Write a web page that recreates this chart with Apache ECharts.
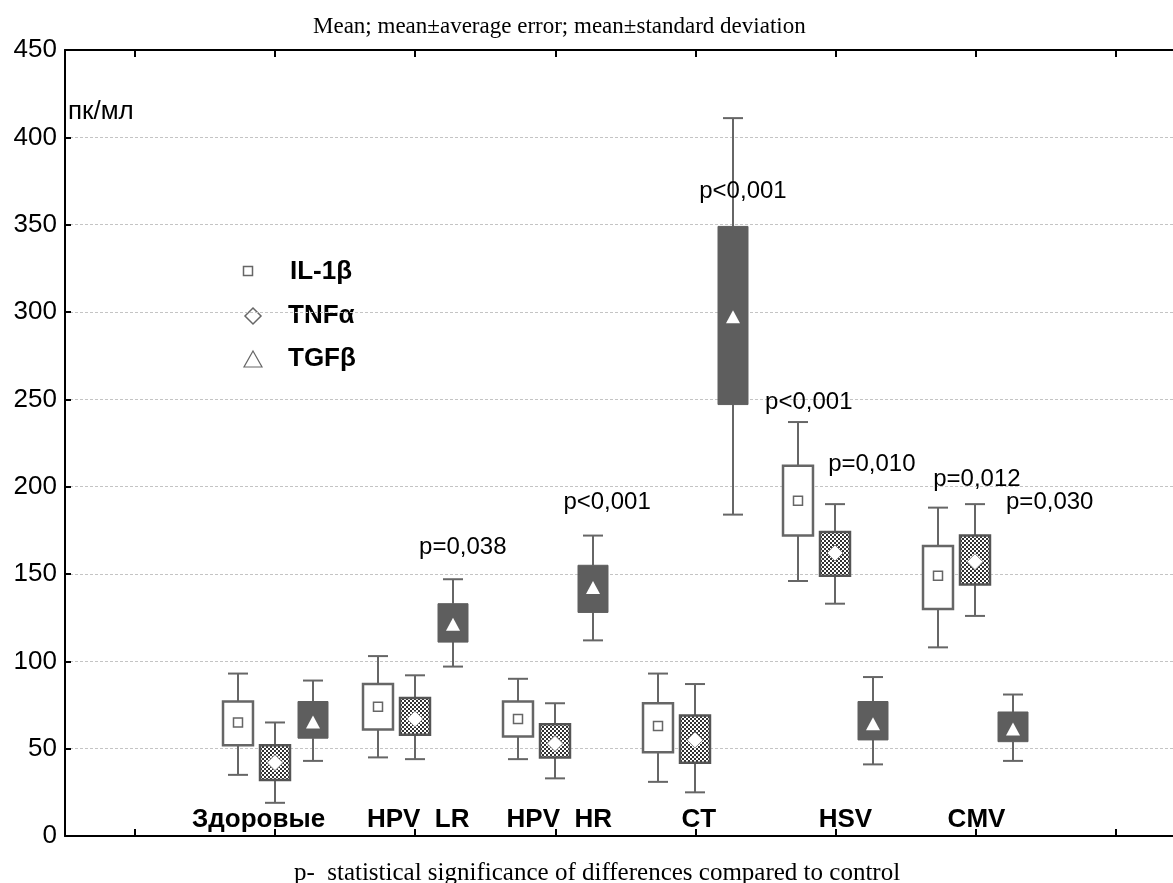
<!DOCTYPE html>
<html><head><meta charset="utf-8">
<script src="https://cdn.jsdelivr.net/npm/echarts@6/dist/echarts.min.js"></script>
<style>html,body{margin:0;padding:0;background:#fff}#c{width:1173px;height:883px}</style>
</head><body><div id="c"></div>
<script>
// ---- data ----
const groups = ['Здоровые', 'HPV  LR', 'HPV  HR', 'CT', 'HSV', 'CMV'];
const groupPos = [2, 3, 4, 5, 6, 7];
// each row: [mean−SD, mean−SE, mean, mean+SE, mean+SD]
const il1b = [[35,52,65,77,93],[45,61,74,87,103],[44,57,67,77,90],[31,48,63,76,93],[146,172,192,212,237],[108,130,149,166,188]];
const tnfa = [[19,32,42,52,65],[44,58,67,79,92],[33,45,53,64,76],[25,42,55,69,87],[133,149,162,174,190],[126,144,157,172,190]];
const tgfb = [[43,56,65,77,89],[97,111,121,133,147],[112,128,142,155,172],[184,247,297,349,411],[41,55,64,77,91],[43,54,61,71,81]];
const pTexts = ['p=0,038', 'p<0,001', 'p<0,001', 'p<0,001', 'p=0,010', 'p=0,012', 'p=0,030'];
const yTicks = [0, 50, 100, 150, 200, 250, 300, 350, 400, 450];
const seriesNames = ['IL-1β', 'TNFα', 'TGFβ'];

// ---- layout (not data) ----
const pAnchors = [[3.34,165],[4.37,191],[5.34,369],[5.81,248],[6.26,213],[7.01,204],[7.53,191]];
const labelShiftPx = [-16.5, 3, 4, 3.5, 10, 1];
const PX = 140; // px per x unit (approx)
const seriesOffset = 37.5 / PX;

const pc = document.createElement('canvas'); pc.width = 4; pc.height = 4;
const g = pc.getContext('2d');
g.fillStyle = '#fff'; g.fillRect(0,0,4,4);
g.fillStyle = '#333'; g.fillRect(0,0,2,2); g.fillRect(2,2,2,2);
const checker = {image: pc, repeat: 'repeat'};

const FONT = 'Liberation Sans, Arial, sans-serif';
const SERIF = 'Liberation Serif, Times New Roman, serif';
const GREY = '#666';

function makeRender(kind) {
  return function (params, api) {
    const x = api.value(0);
    const lo = api.coord([x, api.value(1)]);
    const bl = api.coord([x, api.value(2)]);
    const m = api.coord([x, api.value(3)]);
    const bh = api.coord([x, api.value(4)]);
    const hi = api.coord([x, api.value(5)]);
    const bw = api.size([0.214, 0])[0];
    const cw = api.size([0.143, 0])[0];
    const cx = Math.round(m[0]);
    const ls = {stroke: GREY, lineWidth: 2};
    const ch = [
      {type: 'line', shape: {x1: cx, y1: hi[1], x2: cx, y2: bh[1]}, style: ls},
      {type: 'line', shape: {x1: cx, y1: bl[1], x2: cx, y2: lo[1]}, style: ls},
      {type: 'line', shape: {x1: cx - cw/2, y1: hi[1], x2: cx + cw/2, y2: hi[1]}, style: ls},
      {type: 'line', shape: {x1: cx - cw/2, y1: lo[1], x2: cx + cw/2, y2: lo[1]}, style: ls}
    ];
    let boxStyle;
    if (kind === 0) boxStyle = {fill: '#fff', stroke: GREY, lineWidth: 2.5};
    else if (kind === 1) boxStyle = {fill: checker, stroke: '#555', lineWidth: 2.5};
    else boxStyle = {fill: '#5e5e5e', stroke: '#5e5e5e', lineWidth: 1};
    ch.push({type: 'rect', shape: {x: cx - bw/2, y: bh[1], width: bw, height: bl[1] - bh[1]}, style: boxStyle});
    const cy = m[1];
    if (kind === 0) {
      ch.push({type: 'rect', shape: {x: cx - 4.5, y: cy - 4.5, width: 9, height: 9}, style: {fill: '#fff', stroke: GREY, lineWidth: 1.5}});
    } else if (kind === 1) {
      ch.push({type: 'polygon', shape: {points: [[cx, cy-8],[cx+8, cy],[cx, cy+8],[cx-8, cy]]}, style: {fill: '#fff', stroke: '#888', lineWidth: 1}});
    } else {
      ch.push({type: 'polygon', shape: {points: [[cx, cy-7],[cx+7, cy+6],[cx-7, cy+6]]}, style: {fill: '#fff'}});
    }
    return {type: 'group', children: ch};
  };
}

const allSets = [il1b, tnfa, tgfb];
const series = allSets.map((set, k) => ({
  name: seriesNames[k],
  type: 'custom',
  renderItem: makeRender(k),
  encode: {x: 0, y: [1, 2, 3, 4, 5]},
  data: set.map((r, i) => [groupPos[i] + (k - 1) * seriesOffset].concat(r)),
  z: 3
}));
series.push({
  type: 'scatter',
  symbolSize: 0,
  silent: true,
  itemStyle: {opacity: 1},
  data: pAnchors.map((a, i) => ({value: a, name: pTexts[i]})),
  label: {show: true, position: 'inside', formatter: p => p.name, fontFamily: FONT, fontSize: 24, color: '#000', opacity: 1},
  z: 4
});

const chart = echarts.init(document.getElementById('c'));
chart.setOption({
  animation: false,
  title: {
    text: 'Mean; mean±average error; mean±standard deviation',
    left: 308, top: 10,
    textStyle: {fontFamily: SERIF, fontSize: 23, fontWeight: 'normal', color: '#000'}
  },
  grid: {left: 65, top: 50, right: 0, bottom: 47, containLabel: false, outerBoundsMode: 'none'},
  xAxis: [{
    type: 'value', min: 0.5, max: 8.41,
    position: 'bottom',
    axisLine: {lineStyle: {color: '#000', width: 2}},
    axisTick: {inside: true, length: 7, lineStyle: {color: '#000', width: 2}, customValues: [1,2,3,4,5,6,7,8]},
    axisLabel: {
      inside: true, margin: 3,
      customValues: groupPos.map((v, i) => v + labelShiftPx[i] / PX),
      formatter: v => groups[Math.round(v) - 2],
      fontFamily: FONT, fontSize: 26, fontWeight: 'bold', color: '#000'
    },
    splitLine: {show: false},
    name: 'p-  statistical significance of differences compared to control',
    nameLocation: 'middle', nameGap: 25,
    nameTextStyle: {fontFamily: SERIF, fontSize: 25, color: '#000', padding: [0, 44, 0, 0]}
  }, {
    type: 'value', min: 0.5, max: 8.41,
    position: 'top',
    axisLine: {lineStyle: {color: '#000', width: 2}},
    axisTick: {inside: true, length: 7, lineStyle: {color: '#000', width: 2}, customValues: [1,2,3,4,5,6,7,8]},
    axisLabel: {show: false},
    splitLine: {show: false}
  }],
  yAxis: {
    type: 'value', min: yTicks[0], max: yTicks[yTicks.length - 1], interval: 50,
    axisLine: {show: true, lineStyle: {color: '#000', width: 2}},
    axisTick: {show: true, inside: true, length: 6, lineStyle: {color: '#000', width: 2}},
    axisLabel: {margin: 8, fontFamily: FONT, fontSize: 26, color: '#000'},
    splitLine: {show: true, lineStyle: {color: '#c4c4c4', type: [3, 2], width: 1}},
    name: 'пк/мл', nameLocation: 'end', nameGap: -62,
    nameTextStyle: {fontFamily: FONT, fontSize: 26, color: '#000', align: 'left', verticalAlign: 'middle', padding: [0, 0, 0, 3]}
  },
  graphic: [
    {type: 'rect', shape: {x: 243.5, y: 266.5, width: 9, height: 9}, style: {fill: '#fff', stroke: GREY, lineWidth: 1.5}},
    {type: 'polygon', shape: {points: [[253, 308],[261, 316],[253, 324],[245, 316]]}, style: {fill: '#fff', stroke: GREY, lineWidth: 1.5}},
    {type: 'polygon', shape: {points: [[253, 351],[262, 367],[244, 367]]}, style: {fill: '#fff', stroke: GREY, lineWidth: 1.2}},
    {type: 'text', x: 290, y: 272, style: {text: seriesNames[0], font: 'bold 26px ' + FONT, fill: '#000', verticalAlign: 'middle'}},
    {type: 'text', x: 288, y: 316, style: {text: seriesNames[1], font: 'bold 26px ' + FONT, fill: '#000', verticalAlign: 'middle'}},
    {type: 'text', x: 288, y: 359, style: {text: seriesNames[2], font: 'bold 26px ' + FONT, fill: '#000', verticalAlign: 'middle'}}
  ],
  series: series
});
</script>
</body></html>
